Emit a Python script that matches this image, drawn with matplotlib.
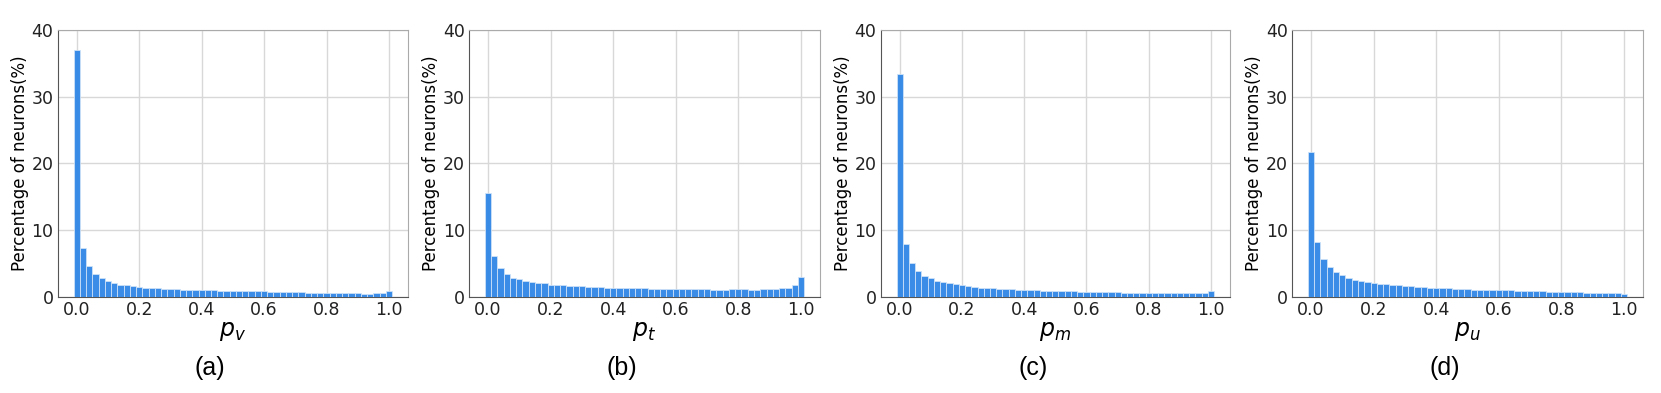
import matplotlib.pyplot as plt
import numpy as np

# bin centres (0.00 .. 1.00, step 0.02)
bin_centers = np.round(np.arange(51) * 0.02, 2)

pct_v = [37.0, 7.3, 4.6, 3.45, 2.8, 2.35, 2.05, 1.8, 1.7, 1.6,
         1.5, 1.35, 1.3, 1.25, 1.2, 1.15, 1.1, 1.05, 1.0, 1.0,
         0.95, 0.95, 0.95, 0.9, 0.9, 0.85, 0.85, 0.85, 0.85, 0.8,
         0.8, 0.75, 0.75, 0.7, 0.65, 0.65, 0.65, 0.6, 0.6, 0.6,
         0.55, 0.55, 0.55, 0.55, 0.5, 0.5, 0.45, 0.45, 0.5, 0.5,
         0.8]
pct_t = [15.6, 6.15, 4.25, 3.45, 2.85, 2.6, 2.35, 2.2, 2.1, 2.0,
         1.8, 1.75, 1.7, 1.65, 1.6, 1.55, 1.5, 1.5, 1.4, 1.35,
         1.35, 1.35, 1.3, 1.3, 1.3, 1.25, 1.2, 1.2, 1.2, 1.15,
         1.15, 1.15, 1.15, 1.1, 1.1, 1.1, 1.0, 1.0, 1.05, 1.1,
         1.1, 1.1, 1.0, 1.05, 1.1, 1.1, 1.15, 1.25, 1.35, 1.7,
         2.9]
pct_m = [33.4, 7.85, 5.05, 3.85, 3.15, 2.75, 2.4, 2.2, 2.0, 1.85,
         1.75, 1.65, 1.5, 1.35, 1.3, 1.25, 1.2, 1.15, 1.1, 1.0,
         0.95, 0.95, 0.95, 0.9, 0.9, 0.85, 0.85, 0.8, 0.8, 0.75,
         0.75, 0.7, 0.7, 0.7, 0.65, 0.65, 0.6, 0.6, 0.6, 0.6,
         0.6, 0.55, 0.55, 0.55, 0.5, 0.5, 0.5, 0.5, 0.5, 0.5,
         0.9]
pct_u = [21.7, 8.15, 5.65, 4.4, 3.7, 3.2, 2.85, 2.5, 2.35, 2.2,
         2.05, 1.95, 1.85, 1.75, 1.7, 1.6, 1.55, 1.5, 1.4, 1.35,
         1.3, 1.3, 1.25, 1.2, 1.15, 1.1, 1.05, 1.05, 1.0, 1.0,
         0.95, 0.95, 0.95, 0.9, 0.9, 0.85, 0.85, 0.8, 0.75, 0.7,
         0.7, 0.7, 0.65, 0.65, 0.6, 0.6, 0.55, 0.55, 0.5, 0.5,
         0.45]

series = [pct_v, pct_t, pct_m, pct_u]
xlabels = [r'$p_v$', r'$p_t$', r'$p_m$', r'$p_u$']
captions = ['(a)', '(b)', '(c)', '(d)']

W, H = 1661, 393
fig = plt.figure(figsize=(W / 100, H / 100), dpi=100)

# axes boxes in pixels: left, right
boxes = [(57.7, 408), (469, 820), (880.7, 1230), (1292, 1643)]
top, bottom = 30, 296.7
caption_x = [210, 622, 1033, 1445]

for i in range(4):
    l, r = boxes[i]
    ax = fig.add_axes([l / W, 1 - bottom / H, (r - l) / W, (bottom - top) / H])
    ax.bar(bin_centers, series[i], width=0.02, color='#2f86e6',
           edgecolor='#cfe2f8', linewidth=0.6, alpha=0.95, zorder=3)
    ax.set_ylim(0, 40)
    ax.set_yticks([0, 10, 20, 30, 40])
    ax.set_xticks([0.0, 0.2, 0.4, 0.6, 0.8, 1.0])
    ax.set_xticklabels(['0.0', '0.2', '0.4', '0.6', '0.8', '1.0'])
    ax.grid(True, color='#d8d8d8', linewidth=1.0, zorder=0)
    ax.set_axisbelow(True)
    ax.tick_params(length=0, labelsize=12.5, pad=3, colors='#222222')
    for s in ['top', 'right']:
        ax.spines[s].set_color('#aaaaaa')
    for s in ['left', 'bottom']:
        ax.spines[s].set_color('#555555')
    ax.set_ylabel('Percentage of neurons(%)', fontsize=12, labelpad=2)
    ax.set_xlabel(xlabels[i], fontsize=17, labelpad=0)
    fig.text(caption_x[i] / W, 1 - 368 / H, captions[i], ha='center',
             va='center', fontsize=18, family='Liberation Sans')

fig.savefig('out.png', dpi=100)
